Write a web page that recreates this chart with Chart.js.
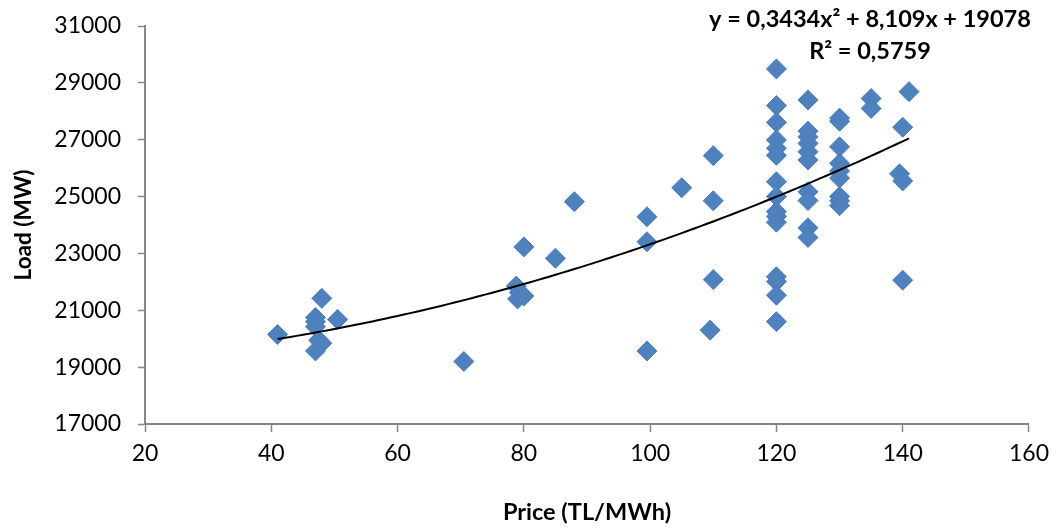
<!DOCTYPE html>
<html>
<head>
<meta charset="utf-8">
<script src="https://cdn.jsdelivr.net/npm/chart.js@4/dist/chart.umd.min.js"></script>
<style>
  html, body { margin: 0; padding: 0; background: #fff; }
  #wrap { width: 1057px; height: 530px; }
</style>
</head>
<body>
<div id="wrap"><canvas id="chart" width="1057" height="530"></canvas></div>
<script>
// price vs load observations
const price = [
  41, 48, 47, 47, 47, 50.5, 47.5, 48, 47,
  70.5, 78.8, 79.3, 79, 80, 80, 85, 88,
  99.5, 99.5, 99.5, 105, 110, 110, 110, 109.5,
  120, 120, 120, 120, 120, 120, 120, 120, 120, 120, 120, 120, 120, 120, 120,
  125, 125, 125, 125, 125, 125, 125, 125, 125, 125,
  130, 130, 130, 130, 130, 130, 130, 130, 130,
  135, 135, 141, 140, 139.5, 140, 140
];
const load = [
  20150, 21420, 20750, 20600, 20420, 20680, 19950, 19840, 19570,
  19200, 21850, 21620, 21400, 21500, 23230, 22830, 24820,
  24290, 23410, 19570, 25310, 26440, 24850, 22080, 20300,
  29490, 28200, 27610, 26990, 26700, 26450, 25520, 25000, 24470, 24300, 24100, 22180, 22010, 21530, 20600,
  28400, 27300, 27100, 26870, 26580, 26290, 25170, 24860, 23900, 23560,
  27760, 27650, 26750, 26170, 25900, 25650, 25000, 24850, 24680,
  28450, 28100, 28690, 27440, 25800, 25550, 22060
];

// polynomial trendline (order 2): a*x^2 + b*x + c
const trendCoef = [0.3434, 8.109, 19078];
const trendFrom = 41;
const trendTo = 141;
const trendLabel = ['y = 0,3434x² + 8,109x + 19078', 'R² = 0,5759'];

const xTicks = [20, 40, 60, 80, 100, 120, 140, 160];
const yTicks = [17000, 19000, 21000, 23000, 25000, 27000, 29000, 31000];

const points = price.map((p, i) => ({ x: p, y: load[i] }));
const trend = [];
for (let x = trendFrom; x <= trendTo; x++) {
  trend.push({ x: x, y: trendCoef[0] * x * x + trendCoef[1] * x + trendCoef[2] });
}

const FONT = 'Lato, "Open Sans", sans-serif';
const AXIS = '#868686';

const equationText = {
  id: 'equationText',
  afterDraw(chart) {
    const ctx = chart.ctx;
    const area = chart.chartArea;
    ctx.save();
    ctx.font = 'bold 23.5px ' + FONT;
    ctx.fillStyle = '#000';
    ctx.textAlign = 'center';
    ctx.textBaseline = 'middle';
    ctx.fillText(trendLabel[0], area.right - 159, 19);
    ctx.fillText(trendLabel[1], area.right - 159, 51);
    ctx.restore();
  }
};

new Chart(document.getElementById('chart'), {
  type: 'scatter',
  data: {
    datasets: [
      {
        type: 'line',
        data: trend,
        borderColor: '#000',
        borderWidth: 2,
        pointRadius: 0,
        fill: false,
        tension: 0,
        order: 0
      },
      {
        data: points,
        pointStyle: 'rectRot',
        pointRadius: 10,
        backgroundColor: '#4F81BD',
        borderColor: '#4A7EBB',
        borderWidth: 1,
        order: 1
      }
    ]
  },
  options: {
    responsive: false,
    animation: false,
    devicePixelRatio: 1,
    layout: { autoPadding: false, padding: { top: 26, right: 28, left: 0, bottom: 0 } },
    plugins: { legend: { display: false }, tooltip: { enabled: false } },
    scales: {
      x: {
        type: 'linear',
        min: 20,
        max: 160,
        afterBuildTicks: s => { s.ticks = xTicks.map(v => ({ value: v })); },
        afterFit: s => { s.height = 106; },
        border: { color: AXIS, width: 2 },
        grid: { drawOnChartArea: false, color: AXIS, tickLength: 8, tickWidth: 1.5 },
        ticks: { color: '#000', font: { family: FONT, size: 23 }, padding: 8 },
        title: {
          display: true,
          text: 'Price (TL/MWh)',
          color: '#000',
          font: { family: FONT, size: 23.5, weight: 'bold' },
          padding: { top: 0, bottom: 3 }
        }
      },
      y: {
        min: 17000,
        max: 31000,
        afterBuildTicks: s => { s.ticks = yTicks.map(v => ({ value: v })); },
        afterFit: s => {
          s.width = 145;
          // let the layout padding alone decide the top edge
          s.paddingTop = 0;
          s.paddingBottom = 0;
        },
        border: { color: AXIS, width: 2 },
        grid: { drawOnChartArea: false, color: AXIS, tickLength: 7, tickWidth: 1.5 },
        ticks: {
          color: '#000',
          font: { family: FONT, size: 23 },
          padding: 17,
          callback: v => String(v)
        },
        title: {
          display: true,
          text: 'Load (MW)',
          color: '#000',
          font: { family: FONT, size: 22.5, weight: 'bold' },
          padding: { top: 10, bottom: 0 }
        }
      }
    }
  },
  plugins: [equationText]
});
</script>
</body>
</html>
